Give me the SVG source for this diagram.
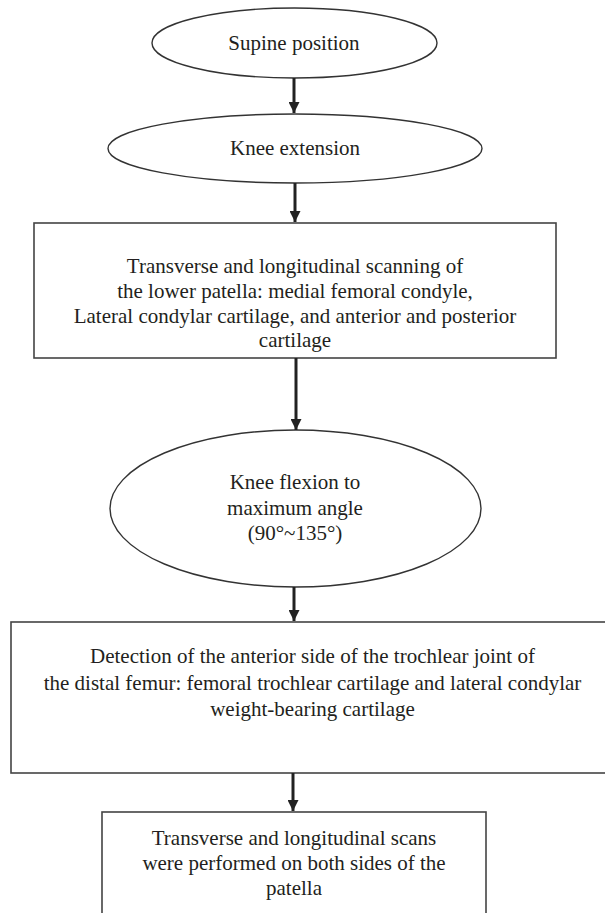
<svg xmlns="http://www.w3.org/2000/svg" width="605" height="913" viewBox="0 0 605 913">
<style>
.shape{fill:#fff;stroke:#333;stroke-width:1.4}
.box{fill:#fff;stroke:#444;stroke-width:1.6}
.t{font-family:"Liberation Serif","Times New Roman",serif;font-size:21px;fill:#231f20;text-anchor:middle}
.conn{stroke:#222;stroke-width:3;fill:none}
</style>
<defs>
<marker id="ah" markerUnits="userSpaceOnUse" markerWidth="11" markerHeight="11" refX="11" refY="5.5" orient="auto">
<path d="M0,0 L11,5.5 L0,11 z" fill="#222"/>
</marker>
</defs>
<rect width="605" height="913" fill="#fff"/>
<g id="n1">
<ellipse class="shape" cx="294.5" cy="43" rx="142.5" ry="35"/>
<text class="t" x="294" y="50">Supine position</text>
</g>
<g id="n2">
<ellipse class="shape" cx="295" cy="148.5" rx="187" ry="34.5"/>
<text class="t" x="295" y="155">Knee extension</text>
</g>
<g id="n3">
<rect class="box" x="34" y="223" width="522" height="135"/>
<text class="t" x="295" y="273">Transverse and longitudinal scanning of</text>
<text class="t" x="295" y="298">the lower patella: medial femoral condyle,</text>
<text class="t" x="295" y="323">Lateral condylar cartilage, and anterior and posterior</text>
<text class="t" x="295" y="347">cartilage</text>
</g>
<g id="n4">
<ellipse class="shape" cx="295.5" cy="508.5" rx="185.5" ry="78.5"/>
<text class="t" x="295" y="489">Knee flexion to</text>
<text class="t" x="295" y="515">maximum angle</text>
<text class="t" x="295" y="540">(90°~135°)</text>
</g>
<g id="n5">
<rect class="box" x="11" y="622" width="603" height="151"/>
<text class="t" x="312.5" y="663">Detection of the anterior side of the trochlear joint of</text>
<text class="t" x="312.5" y="690">the distal femur: femoral trochlear cartilage and lateral condylar</text>
<text class="t" x="312.5" y="716">weight-bearing cartilage</text>
</g>
<g id="n6">
<rect class="box" x="102" y="812" width="384" height="120"/>
<text class="t" x="294" y="845">Transverse and longitudinal scans</text>
<text class="t" x="294" y="870">were performed on both sides of the</text>
<text class="t" x="294" y="895">patella</text>
</g>
<g id="connectors">
<line class="conn" x1="294" y1="78" x2="294" y2="113" marker-end="url(#ah)"/>
<line class="conn" x1="295" y1="183" x2="295" y2="222" marker-end="url(#ah)"/>
<line class="conn" x1="296" y1="358" x2="296" y2="430" marker-end="url(#ah)"/>
<line class="conn" x1="294" y1="587" x2="294" y2="621" marker-end="url(#ah)"/>
<line class="conn" x1="293" y1="773" x2="293" y2="811" marker-end="url(#ah)"/>
</g>
</svg>
